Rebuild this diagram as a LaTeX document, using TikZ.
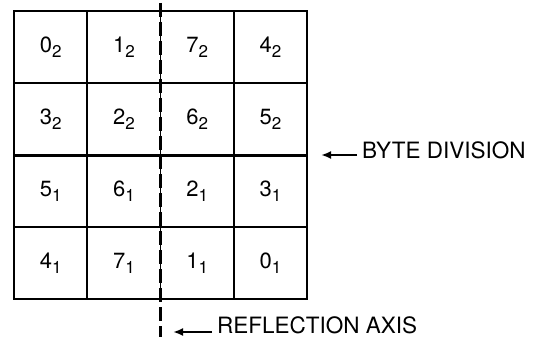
\documentclass[tikz,border=0pt]{standalone}
\usepackage{fontspec}
\setmainfont{TeX Gyre Heros}
\usetikzlibrary{positioning, arrows.meta}
\tikzset{
    cell/.style={rectangle, draw=black, line width=1.6pt, minimum width=73.25pt, minimum height=72pt, inner sep=0pt, font=\fontsize{22}{22}\selectfont},
    byteline/.style={draw=black, line width=3pt},
    axisline/.style={draw=black, line width=3pt, dash pattern=on 14pt off 5pt},
    pointer/.style={draw=black, line width=2.2pt, -{Latex[length=10pt,width=8pt]}},
    note/.style={font=\fontsize{22.5}{22.5}\selectfont, inner sep=0pt}
}
% digit with its byte index
\newcommand{\bit}[2]{#1\raisebox{-5pt}{\fontsize{17}{17}\selectfont #2}}

\begin{document}
\begin{tikzpicture}[x=1pt, y=-1pt]
\useasboundingbox (0,0) rectangle (539,337);
% Grid of cells, rows top to bottom
\foreach \row/\entries in {1/{0,1,7,4}, 2/{3,2,6,5}, 3/{5,6,2,3}, 4/{4,7,1,0}} {
    \pgfmathtruncatemacro{\sub}{\row<3 ? 2 : 1}
    \foreach \d [count=\col] in \entries {
        \node[cell] (c\row\col) at ({14+73.25*(\col-0.5)}, {11+72*(\row-0.5)}) {\bit{\d}{\sub}};
    }
}

% Byte division
\draw[byteline] (c21.south west) -- (c24.south east);

% Reflection axis
\coordinate (axtop) at (160,3);
\coordinate (axbot) at (160,337);
\draw[axisline] (axtop) -- (axbot);

% Labels with pointers
\node[note, anchor=base west] (bytelbl) at (362,158) {BYTE DIVISION};
\coordinate (bytetip) at (321,155);
\draw[pointer] (bytelbl.west |- bytetip) ++(-5,0) coordinate (bytetail) -- (bytetip);

\node[note, anchor=base west] (axislbl) at (217,333) {REFLECTION AXIS};
\coordinate (axistip) at (173,332);
\draw[pointer] (axislbl.west |- axistip) ++(-5,0) coordinate (axistail) -- (axistip);
\end{tikzpicture}
\end{document}
